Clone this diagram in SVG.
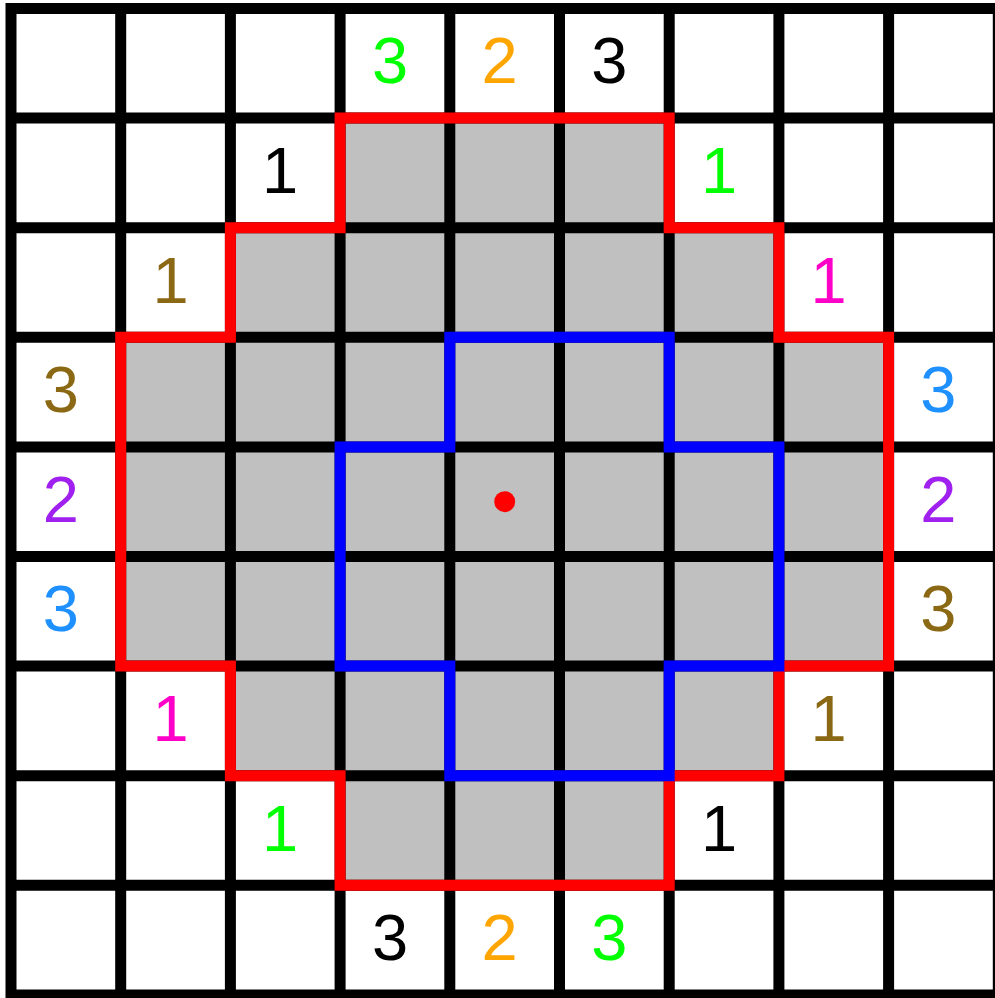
<svg xmlns="http://www.w3.org/2000/svg" width="995" height="998" viewBox="0 0 995 998">
<style>
.grid{stroke:#000;stroke-width:11;fill:none;stroke-linecap:square}
.red{stroke:#ff0000;stroke-width:11;fill:none;stroke-linejoin:miter}
.blue{stroke:#0000ff;stroke-width:11;fill:none;stroke-linejoin:miter}
text{font-family:"Liberation Sans",Arial,Helvetica,sans-serif;font-size:65px;text-anchor:middle}
.g{fill:#00ff00}.o{fill:#ffa500}.k{fill:#000}.b{fill:#8b6914}.m{fill:#ff00c8}.p{fill:#a020f0}.d{fill:#1e90ff}
</style>
<rect x="0" y="0" width="995" height="998" fill="#fff"/>
<g id="region">
<polygon fill="#c0c0c0" points="340.1,118.1 669.2,118.1 669.2,227.7 778.9,227.7 778.9,337.3 888.6,337.3 888.6,666.1 778.9,666.1 778.9,775.7 669.2,775.7 669.2,885.3 340.1,885.3 340.1,775.7 230.4,775.7 230.4,666.1 120.7,666.1 120.7,337.3 230.4,337.3 230.4,227.7 340.1,227.7"/>
</g>
<g id="grid">
<path class="grid" d="M11,8.5V994.9M120.7,8.5V994.9M230.4,8.5V994.9M340.1,8.5V994.9M449.8,8.5V994.9M559.5,8.5V994.9M669.2,8.5V994.9M778.9,8.5V994.9M888.6,8.5V994.9M998.3,8.5V994.9M11,8.5H998.3M11,118.1H998.3M11,227.7H998.3M11,337.3H998.3M11,446.9H998.3M11,556.5H998.3M11,666.1H998.3M11,775.7H998.3M11,885.3H998.3M11,994.9H998.3"/>
</g>
<g id="connectors">
<polygon id="outer-boundary" class="red" points="340.1,118.1 669.2,118.1 669.2,227.7 778.9,227.7 778.9,337.3 888.6,337.3 888.6,666.1 778.9,666.1 778.9,775.7 669.2,775.7 669.2,885.3 340.1,885.3 340.1,775.7 230.4,775.7 230.4,666.1 120.7,666.1 120.7,337.3 230.4,337.3 230.4,227.7 340.1,227.7"/>
<polygon id="inner-boundary" class="blue" points="449.8,337.3 669.2,337.3 669.2,446.9 778.9,446.9 778.9,666.1 669.2,666.1 669.2,775.7 449.8,775.7 449.8,666.1 340.1,666.1 340.1,446.9 449.8,446.9"/>
</g>
<g id="labels">
<g id="r0c3"><text class="g" x="390" y="83.3">3</text></g>
<g id="r0c4"><text class="o" x="499.6" y="83.3">2</text></g>
<g id="r0c5"><text class="k" x="609.3" y="83.3">3</text></g>
<g id="r1c2"><text class="k" x="280.2" y="192.9">1</text></g>
<g id="r1c6"><text class="g" x="719" y="192.9">1</text></g>
<g id="r2c1"><text class="b" x="170.5" y="302.5">1</text></g>
<g id="r2c7"><text class="m" x="828.7" y="302.5">1</text></g>
<g id="r3c0"><text class="b" x="60.8" y="412.1">3</text></g>
<g id="r3c8"><text class="d" x="938.4" y="412.1">3</text></g>
<g id="r4c0"><text class="p" x="60.8" y="521.7">2</text></g>
<g id="r4c8"><text class="p" x="938.4" y="521.7">2</text></g>
<g id="r5c0"><text class="d" x="60.8" y="631.3">3</text></g>
<g id="r5c8"><text class="b" x="938.4" y="631.3">3</text></g>
<g id="r6c1"><text class="m" x="170.5" y="740.9">1</text></g>
<g id="r6c7"><text class="b" x="828.7" y="740.9">1</text></g>
<g id="r7c2"><text class="g" x="280.2" y="850.5">1</text></g>
<g id="r7c6"><text class="k" x="719" y="850.5">1</text></g>
<g id="r8c3"><text class="k" x="390" y="960.1">3</text></g>
<g id="r8c4"><text class="o" x="499.6" y="960.1">2</text></g>
<g id="r8c5"><text class="g" x="609.3" y="960.1">3</text></g>
</g>
<g id="center"><circle cx="504.7" cy="501.7" r="10.5" fill="#ff0000"/></g>
</svg>
